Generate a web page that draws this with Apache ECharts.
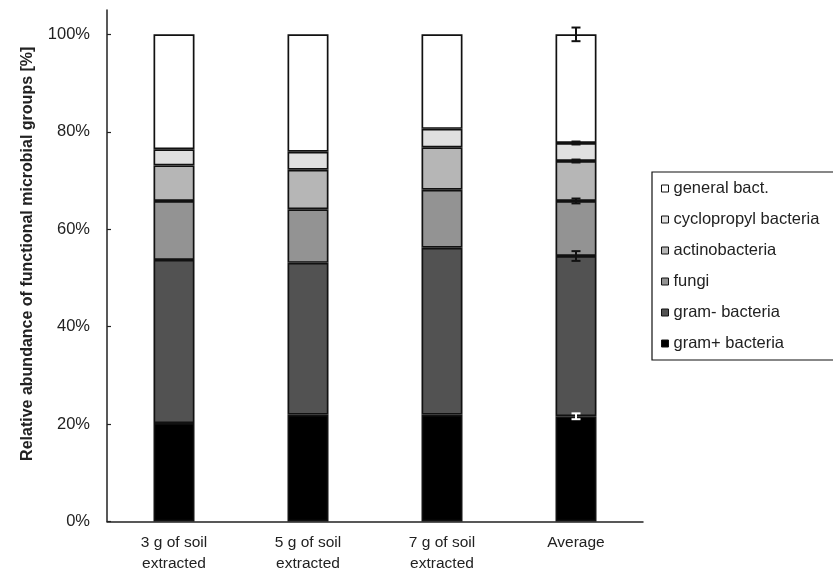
<!DOCTYPE html>
<html>
<head>
<meta charset="utf-8">
<script src="https://cdn.jsdelivr.net/npm/echarts@6/dist/echarts.min.js"></script>
<style>html,body{margin:0;padding:0;background:#fff}#c{width:833px;height:571px}</style>
</head>
<body>
<div id="c"></div>
<script>
const categories = ['3 g of soil\nextracted', '5 g of soil\nextracted', '7 g of soil\nextracted', 'Average'];
const gramPos = [20.2, 21.9, 21.9, 21.6];
const gramNeg = [33.5, 31.2, 34.3, 32.9];
const fungi = [12.1, 11.0, 11.9, 11.3];
const actino = [7.3, 8.1, 8.7, 8.2];
const cyclo = [3.3, 3.7, 3.8, 3.7];
const general = [23.6, 24.1, 19.4, 22.3];
// error bars on the Average column, bottom group to top group
const avgErrors = [0.6, 1.0, 0.5, 0.3, 0.3, 1.4];
const yTicks = [0, 20, 40, 60, 80, 100];

const groups = [
  {name: 'gram+ bacteria', data: gramPos, color: '#000000'},
  {name: 'gram- bacteria', data: gramNeg, color: '#525252'},
  {name: 'fungi', data: fungi, color: '#939393'},
  {name: 'actinobacteria', data: actino, color: '#b6b6b6'},
  {name: 'cyclopropyl bacteria', data: cyclo, color: '#e0e0e0'},
  {name: 'general bact.', data: general, color: '#ffffff'}
];

const avgIdx = categories.length - 1;
let cum = 0;
const errData = groups.map((g, i) => {
  cum += g.data[avgIdx];
  return [avgIdx, cum, avgErrors[i]];
});

const FONT = '"Liberation Sans", Arial, sans-serif';

const series = groups.map(g => ({
  name: g.name,
  type: 'bar',
  stack: 'total',
  data: g.data,
  barWidth: 41,
  itemStyle: {color: g.color, borderColor: '#111', borderWidth: 1.7},
  emphasis: {disabled: true}
}));

series.push({
  type: 'custom',
  name: 'err',
  z: 10,
  data: errData,
  renderItem: function (params, api) {
    const x = api.value(0), y = api.value(1), e = api.value(2);
    const hi = api.coord([x, y + e]);
    const lo = api.coord([x, y - e]);
    const h = 4.5;
    const stroke = params.dataIndex === 0 ? '#ffffff' : '#111';
    const st = {stroke: stroke, lineWidth: 2};
    return {
      type: 'group',
      children: [
        {type: 'line', shape: {x1: hi[0], y1: hi[1], x2: lo[0], y2: lo[1]}, style: st},
        {type: 'line', shape: {x1: hi[0] - h, y1: hi[1], x2: hi[0] + h, y2: hi[1]}, style: st},
        {type: 'line', shape: {x1: lo[0] - h, y1: lo[1], x2: lo[0] + h, y2: lo[1]}, style: st}
      ]
    };
  }
});

const chart = echarts.init(document.getElementById('c'), null, {renderer: 'canvas'});
chart.setOption({
  animation: false,
  backgroundColor: '#ffffff',
  textStyle: {fontFamily: FONT},
  grid: {left: 107, right: 190, top: 10, bottom: 49.5, containLabel: false, outerBoundsMode: 'none'},
  legend: {
    data: groups.map(g => g.name).reverse(),
    orient: 'vertical',
    left: 652,
    top: 172,
    padding: [8, 10, 8, 9],
    itemGap: 14,
    itemWidth: 7,
    itemHeight: 7,
    borderColor: '#111',
    borderWidth: 1.2,
    icon: 'rect',
    itemStyle: {borderColor: '#111', borderWidth: 1},
    textStyle: {fontFamily: FONT, fontSize: 16.5, color: '#222', lineHeight: 15, width: 170},
    selectedMode: false
  },
  xAxis: {
    type: 'category',
    data: categories,
    axisLine: {lineStyle: {color: '#222', width: 1.5}},
    axisTick: {show: false},
    axisLabel: {fontFamily: FONT, fontSize: 15.5, color: '#222', lineHeight: 21, margin: 11, interval: 0}
  },
  yAxis: {
    type: 'value',
    min: 0,
    max: 105,
    interval: 20,
    name: 'Relative abundance of functional microbial groups [%]',
    nameLocation: 'middle',
    nameGap: 71,
    nameTextStyle: {fontFamily: FONT, fontSize: 16, fontWeight: 'bold', color: '#222', padding: [0, 0, 0, 24]},
    splitLine: {show: false},
    axisLine: {show: true, lineStyle: {color: '#222', width: 1.5}},
    axisTick: {show: true, inside: true, length: 4, lineStyle: {color: '#222', width: 1.2}, customValues: yTicks},
    axisLabel: {fontFamily: FONT, fontSize: 16.5, color: '#222', margin: 17, customValues: yTicks,
      formatter: v => v + '%'}
  },
  series: series
});
</script>
</body>
</html>
